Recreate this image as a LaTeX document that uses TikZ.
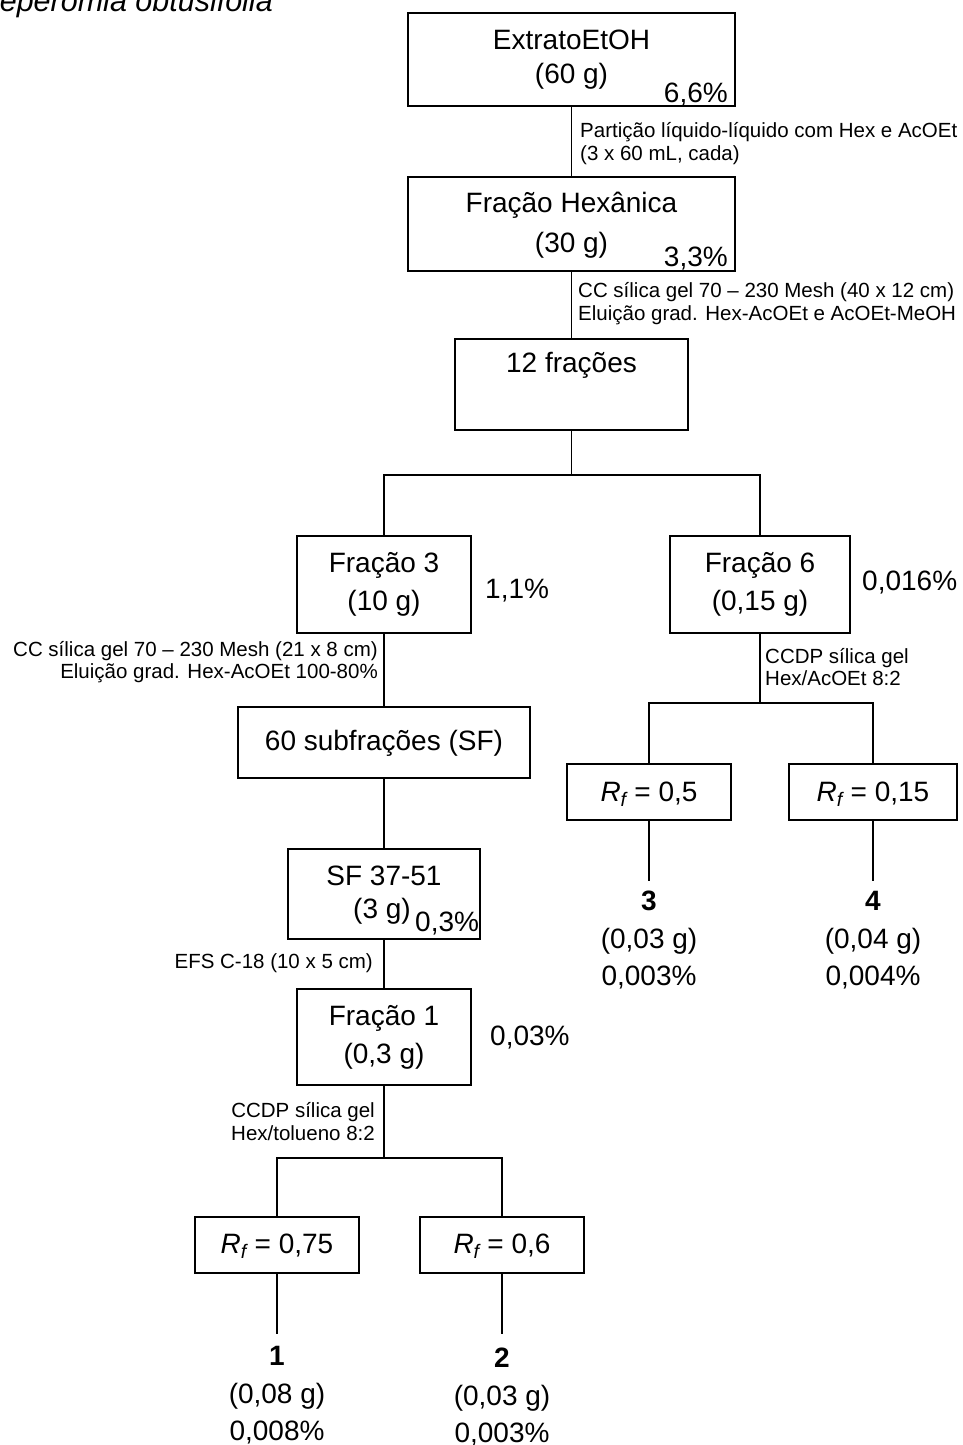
\documentclass[tikz,border=0pt]{standalone}
\usepackage{fontspec}
\setmainfont{Liberation Sans}
\usetikzlibrary{fit}
\tikzset{
  box/.style={draw, line width=1.8pt, inner sep=0pt},
  big/.style={font=\fontsize{28}{32}\selectfont, inner sep=0pt, anchor=base},
  bigw/.style={big, anchor=base west},
  bige/.style={big, anchor=base east},
  smw/.style={font=\fontsize{20.5}{24}\selectfont, inner sep=0pt, anchor=base west},
  sme/.style={font=\fontsize{20.5}{24}\selectfont, inner sep=0pt, anchor=base east},
  conn/.style={line width=1.8pt},
}
\newcommand{\rfv}[1]{{\itshape R\textsubscript{f}} = #1}
\begin{document}
\begin{tikzpicture}[x=1pt,y=-1pt]
\useasboundingbox (0,0) rectangle (962,1445);
% title (clipped at top)
\node[font=\fontsize{30.5}{33}\selectfont\itshape, inner sep=0pt, anchor=base east] (title) at (273,12) {Peperomia obtusifolia};

% boxes
\node[box, fit={(408,13) (735,106)}] (b1) {};
\node[box, fit={(408,177) (735,271)}] (b2) {};
\node[box, fit={(455,339) (688,430)}] (b3) {};
\node[box, fit={(297,536) (471,633)}] (f3) {};
\node[box, fit={(670,536) (850,633)}] (f6) {};
\node[box, fit={(238,707) (530,778)}] (sub) {};
\node[box, fit={(288,849) (480,939)}] (sf) {};
\node[box, fit={(297,989) (471,1085)}] (f1) {};
\node[box, fit={(195,1217) (359,1273)}] (r1) {};
\node[box, fit={(420,1217) (584,1273)}] (r2) {};
\node[box, fit={(567,764) (731,820)}] (r3) {};
\node[box, fit={(789,764) (957,820)}] (r4) {};

% box texts
\node[big] (t1a) at (571.5,50) {ExtratoEtOH};
\node[big] (t1b) at (571.5,83) {(60 g)};
\node[bige] (t1c) at (728,102) {6,6\%};
\node[big] (t2a) at (571.5,212) {Fração Hexânica};
\node[big] (t2b) at (571.5,252) {(30 g)};
\node[bige] (t2c) at (728,266) {3,3\%};
\node[big] (t3a) at (571.5,372) {12 frações};
\node[big] (tf3a) at (384,572) {Fração 3};
\node[big] (tf3b) at (384,610) {(10 g)};
\node[bigw] (tf3c) at (485,598) {1,1\%};
\node[big] (tf6a) at (760,572) {Fração 6};
\node[big] (tf6b) at (760,610) {(0,15 g)};
\node[bigw] (tf6c) at (862,590) {0,016\%};
\node[big] (tsub) at (384,750) {60 subfrações (SF)};
\node[big] (tsfa) at (384,885) {SF 37-51};
\node[big] (tsfb) at (382,918) {(3 g)};
\node[bigw] (tsfc) at (415,931) {0,3\%};
\node[big] (tf1a) at (384,1025) {Fração 1};
\node[big] (tf1b) at (384,1063) {(0,3 g)};
\node[bigw] (tf1c) at (490,1045) {0,03\%};
\node[big] (tr1) at (277,1253) {\rfv{0,75}};
\node[big] (tr2) at (502,1253) {\rfv{0,6}};
\node[big] (tr3) at (649,801) {\rfv{0,5}};
\node[big] (tr4) at (873,801) {\rfv{0,15}};

% step annotations
\node[smw] (s1a) at (580,137) {Partição líquido-líquido com Hex e AcOEt};
\node[smw] (s1b) at (580,160) {(3 x 60 mL, cada)};
\node[smw] (s2a) at (578,297) {CC sílica gel 70 – 230 Mesh (40 x 12 cm)};
\node[smw] (s2b) at (578,320) {Eluição grad. Hex-AcOEt e AcOEt-MeOH};
\node[sme] (s3a) at (378,656) {CC sílica gel 70 – 230 Mesh (21 x 8 cm)};
\node[sme] (s3b) at (378,678) {Eluição grad. Hex-AcOEt 100-80\%};
\node[smw] (s4a) at (765,663) {CCDP sílica gel};
\node[smw] (s4b) at (765,685) {Hex/AcOEt 8:2};
\node[sme] (s5) at (373,968) {EFS C-18 (10 x 5 cm)};
\node[sme] (s6a) at (375,1117) {CCDP sílica gel};
\node[sme] (s6b) at (375,1140) {Hex/tolueno 8:2};

% compounds
\node[big, font=\fontsize{28}{32}\selectfont\bfseries] (c1) at (277,1365) {1};
\node[big] (c1b) at (277,1403) {(0,08 g)};
\node[big] (c1c) at (277,1440) {0,008\%};
\node[big, font=\fontsize{28}{32}\selectfont\bfseries] (c2) at (502,1367) {2};
\node[big] (c2b) at (502,1405) {(0,03 g)};
\node[big] (c2c) at (502,1442) {0,003\%};
\node[big, font=\fontsize{28}{32}\selectfont\bfseries] (c3) at (649,910) {3};
\node[big] (c3b) at (649,948) {(0,03 g)};
\node[big] (c3c) at (649,985) {0,003\%};
\node[big, font=\fontsize{28}{32}\selectfont\bfseries] (c4) at (873,910) {4};
\node[big] (c4b) at (873,948) {(0,04 g)};
\node[big] (c4c) at (873,985) {0,004\%};

% junction coordinates
\coordinate (j1) at (571.5,475);
\coordinate (j2) at (384,1158);
\coordinate (j3) at (760,703);
\coordinate (e1) at (277,1334);
\coordinate (e2) at (502,1334);
\coordinate (e3) at (649,881);
\coordinate (e4) at (873,881);

% connectors
\draw[conn] (b1.south) -- (b2.north);
\draw[conn] (b2.south) -- (b3.north);
\draw[conn] (b3.south) -- (j1);
\draw[conn] (f3.north) |- (j1) -| (f6.north);
\draw[conn] (f3.south) -- (sub.north);
\draw[conn] (sub.south) -- (sf.north);
\draw[conn] (sf.south) -- (f1.north);
\draw[conn] (f1.south) -- (j2);
\draw[conn] (r1.north) |- (j2) -| (r2.north);
\draw[conn] (f6.south) -- (j3);
\draw[conn] (r3.north) |- (j3) -| (r4.north);
\draw[conn] (r1.south) -- (e1);
\draw[conn] (r2.south) -- (e2);
\draw[conn] (r3.south) -- (e3);
\draw[conn] (r4.south) -- (e4);
\end{tikzpicture}
\end{document}
